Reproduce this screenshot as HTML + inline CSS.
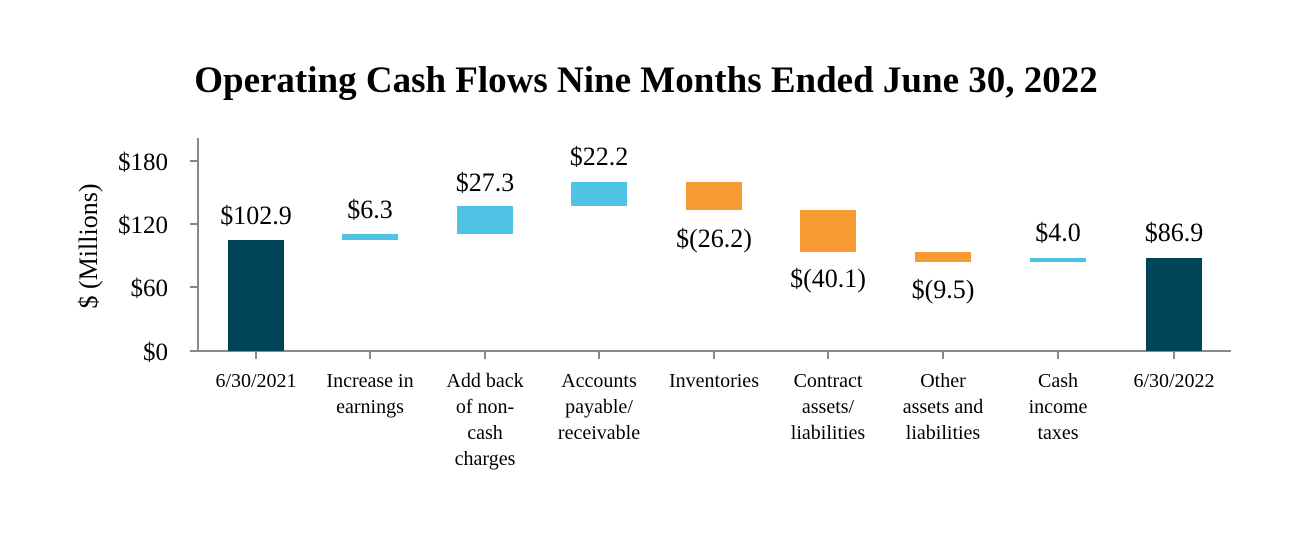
<!DOCTYPE html>
<html><head><style>body{margin:0;background:#fff}</style></head><body>
<svg width="1296" height="532" xmlns="http://www.w3.org/2000/svg" font-family="Liberation Serif, serif">
<text x="646" y="92" font-size="37" font-weight="bold" text-anchor="middle">Operating Cash Flows Nine Months Ended June 30, 2022</text>
<text transform="translate(97,246) rotate(-90)" font-size="26" text-anchor="middle">$ (Millions)</text>
<g stroke="#888" stroke-width="2">
<line x1="198" y1="138" x2="198" y2="351"/>
<line x1="197" y1="351" x2="1231" y2="351"/>
<line x1="190" y1="161" x2="198" y2="161"/><line x1="190" y1="224" x2="198" y2="224"/><line x1="190" y1="287" x2="198" y2="287"/><line x1="190" y1="351" x2="198" y2="351"/>
<line x1="256" y1="351" x2="256" y2="359"/><line x1="370" y1="351" x2="370" y2="359"/><line x1="485" y1="351" x2="485" y2="359"/><line x1="599" y1="351" x2="599" y2="359"/><line x1="714" y1="351" x2="714" y2="359"/><line x1="828" y1="351" x2="828" y2="359"/><line x1="943" y1="351" x2="943" y2="359"/><line x1="1058" y1="351" x2="1058" y2="359"/><line x1="1174" y1="351" x2="1174" y2="359"/>
</g>
<g font-size="25" text-anchor="end">
<text x="168" y="170">$180</text><text x="168" y="233">$120</text><text x="168" y="296">$60</text><text x="168" y="360">$0</text>
</g>
<rect x="228" y="240" width="56" height="111" fill="#004459"/>
<rect x="342" y="234" width="56" height="6" fill="#4fc3e3"/>
<rect x="457" y="206" width="56" height="28" fill="#4fc3e3"/>
<rect x="571" y="182" width="56" height="24" fill="#4fc3e3"/>
<rect x="686" y="182" width="56" height="28" fill="#f79a31"/>
<rect x="800" y="210" width="56" height="42" fill="#f79a31"/>
<rect x="915" y="252" width="56" height="10" fill="#f79a31"/>
<rect x="1030" y="258" width="56" height="4" fill="#4fc3e3"/>
<rect x="1146" y="258" width="56" height="93" fill="#004459"/>
<g font-size="26" text-anchor="middle">
<text x="256" y="224">$102.9</text><text x="370" y="218">$6.3</text><text x="485" y="191">$27.3</text><text x="599" y="165">$22.2</text>
<text x="714" y="247">$(26.2)</text><text x="828" y="287">$(40.1)</text><text x="943" y="298">$(9.5)</text><text x="1058" y="241">$4.0</text><text x="1174" y="241">$86.9</text>
</g>
<g font-size="20" text-anchor="middle">
<text x="256" y="387">6/30/2021</text>
<text x="370" y="387">Increase in</text><text x="370" y="413">earnings</text>
<text x="485" y="387">Add back</text><text x="485" y="413">of non-</text><text x="485" y="439">cash</text><text x="485" y="465">charges</text>
<text x="599" y="387">Accounts</text><text x="599" y="413">payable/</text><text x="599" y="439">receivable</text>
<text x="714" y="387">Inventories</text>
<text x="828" y="387">Contract</text><text x="828" y="413">assets/</text><text x="828" y="439">liabilities</text>
<text x="943" y="387">Other</text><text x="943" y="413">assets and</text><text x="943" y="439">liabilities</text>
<text x="1058" y="387">Cash</text><text x="1058" y="413">income</text><text x="1058" y="439">taxes</text>
<text x="1174" y="387">6/30/2022</text>
</g>
</svg>
</body></html>
